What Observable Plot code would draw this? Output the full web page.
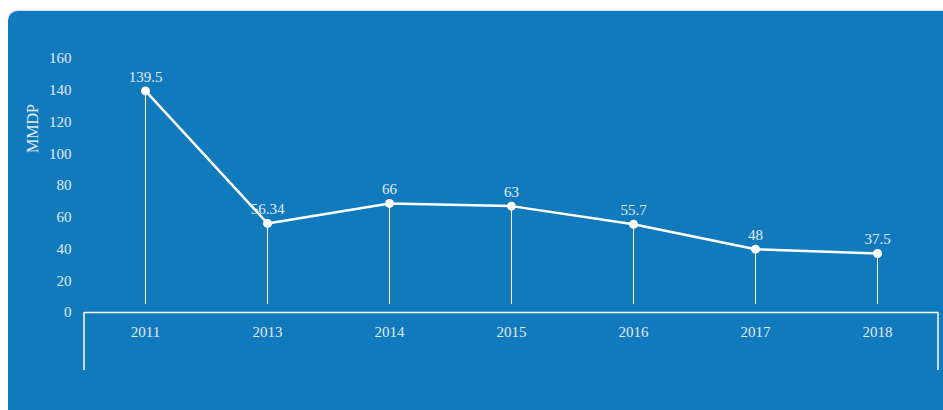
<!DOCTYPE html>
<html>
<head>
<meta charset="utf-8">
<script src="https://cdn.jsdelivr.net/npm/d3@7"></script>
<script src="https://cdn.jsdelivr.net/npm/@observablehq/plot@0.6"></script>
<style>
  html, body { margin: 0; padding: 0; background: #ffffff; width: 943px; height: 410px; overflow: hidden; }
  #bg { position: absolute; left: 8px; top: 10px; width: 945px; height: 410px; background: #107abd; border-top-left-radius: 10px; border-top: 1px solid #d5dde4; box-sizing: border-box; }
  #chart { position: absolute; left: 0; top: 0; }
</style>
</head>
<body>
<div id="bg"></div>
<div id="chart"></div>
<script>
const years = ["2011", "2013", "2014", "2015", "2016", "2017", "2018"];
const values = [139.6, 56.1, 68.7, 67.0, 55.6, 39.9, 37.2];
const valueLabels = ["139.5", "56.34", "66", "63", "55.7", "48", "37.5"];
const yTicks = [0, 20, 40, 60, 80, 100, 120, 140, 160];
const yTitle = "MMDP";

const data = years.map((year, i) => ({year, value: values[i], label: valueLabels[i]}));
const textColor = "#e2eaf4";
const font = "'Liberation Serif', 'DejaVu Serif', serif";

const chart = Plot.plot({
  width: 943,
  height: 410,
  marginLeft: 84,
  marginRight: 5,
  marginTop: 58,
  marginBottom: 98,
  style: {background: "transparent", fontFamily: font, fontSize: "15px", color: textColor},
  x: {type: "point", domain: years, padding: 0.5},
  y: {domain: [0, 160], ticks: yTicks},
  marks: [
    Plot.axisY({ticks: yTicks, tickSize: 0, tickPadding: 13, label: null, fill: textColor, fontSize: 15}),
    Plot.axisX({tickSize: 0, tickPadding: 14, label: null, fill: textColor, fontSize: 15}),
    Plot.text([yTitle], {frameAnchor: "left", rotate: -90, textAnchor: "middle", dx: -52, dy: -57, fill: textColor, fontSize: 16}),
    Plot.ruleY([0], {stroke: "white", strokeWidth: 1.5}),
    Plot.ruleX(data, {x: "year", y1: "value", y2: 0, stroke: "white", strokeWidth: 1, insetBottom: 8}),
    Plot.line(data, {x: "year", y: "value", stroke: "white", strokeWidth: 2.5}),
    Plot.dot(data, {x: "year", y: "value", r: 4.5, fill: "white", stroke: "none"}),
    Plot.text(data, {x: "year", y: "value", text: "label", dy: -14, fill: textColor, fontSize: 15})
  ]
});

document.getElementById("chart").appendChild(chart);

// bracket ends of the x axis, from the scales
const xs = chart.scale("x").range;
const y0 = chart.scale("y").apply(0);
const svg = d3.select(chart);
xs.forEach(x => {
  svg.append("line")
    .attr("x1", x).attr("x2", x)
    .attr("y1", y0).attr("y2", y0 + 58)
    .attr("stroke", "white").attr("stroke-width", 1.5);
});
</script>
</body>
</html>
